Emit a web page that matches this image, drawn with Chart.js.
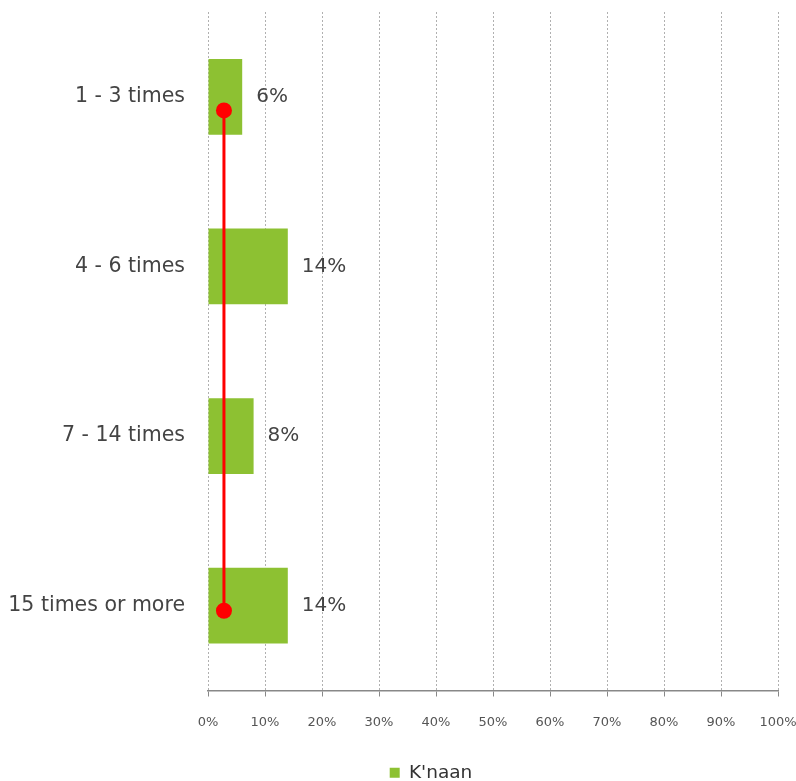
<!DOCTYPE html>
<html>
<head>
<meta charset="utf-8">
<script src="https://cdn.jsdelivr.net/npm/chart.js@4"></script>
<style>
  html, body { margin: 0; padding: 0; background: #fff; }
  #wrap { width: 796px; height: 781px; }
</style>
</head>
<body>
<div id="wrap"><canvas id="c" width="796" height="781"></canvas></div>
<script>
// Visit frequency buckets and share of respondents
const categories = ['1 - 3 times', '4 - 6 times', '7 - 14 times', '15 times or more'];
const shares = [6, 14, 8, 14];
const seriesName = "K'naan";
// Reference line: value and position along the category axis (category index units)
const refLineX = [2.8, 2.8];
const refLineY = [0.08, 3.03];
const xTicks = [0, 10, 20, 30, 40, 50, 60, 70, 80, 90, 100];

const FONT = "'DejaVu Sans', Verdana, sans-serif";
const GREEN = '#8DC132';
const LEGEND_LEFT = 84;

const valueLabels = {
  id: 'valueLabels',
  afterDatasetsDraw(chart) {
    const ctx = chart.ctx;
    const meta = chart.getDatasetMeta(0);
    ctx.save();
    ctx.font = '20px ' + FONT;
    ctx.fillStyle = '#444';
    ctx.textAlign = 'left';
    ctx.textBaseline = 'middle';
    meta.data.forEach((bar, i) => {
      ctx.fillText(shares[i] + '%', bar.x + 14, bar.y);
    });
    ctx.restore();
  }
};

// Legend sits centred under the right part of the canvas
const legendShift = {
  id: 'legendShift',
  afterLayout(chart) {
    const lg = chart.legend;
    if (lg) {
      lg.left = LEGEND_LEFT;
      lg.width = lg.right - lg.left;
    }
  }
};

new Chart(document.getElementById('c'), {
  type: 'bar',
  data: {
    labels: categories,
    datasets: [
      {
        label: seriesName,
        data: shares,
        backgroundColor: GREEN,
        borderWidth: 0,
        grouped: false,
        categoryPercentage: 1,
        barPercentage: 0.447,
        xAxisID: 'x',
        yAxisID: 'y',
        order: 2
      },
      {
        type: 'line',
        label: 'ref',
        data: refLineX.map((v, i) => ({ x: v, y: refLineY[i] })),
        borderColor: '#FF0000',
        backgroundColor: '#FF0000',
        borderWidth: 3,
        pointRadius: 8,
        pointHoverRadius: 8,
        pointBorderWidth: 0,
        xAxisID: 'x',
        yAxisID: 'y2',
        order: 1
      }
    ]
  },
  options: {
    indexAxis: 'y',
    responsive: false,
    animation: false,
    layout: { autoPadding: false, padding: { left: 0, right: 18, top: 12, bottom: -11 } },
    scales: {
      x: {
        type: 'linear',
        min: 0,
        max: 100,
        afterBuildTicks(scale) { scale.ticks = xTicks.map(v => ({ value: v })); },
        afterFit(scale) { scale.height = 70; scale.paddingLeft = 0; scale.paddingRight = 0; },
        grid: {
          color: '#b0b0b0',
          tickBorderDash: [],
          tickColor: '#888',
          tickLength: 6,
          lineWidth: 1
        },
        border: { display: true, color: '#888', width: 1.5, dash: [2, 2] },
        ticks: {
          font: { family: FONT, size: 13 },
          color: '#555',
          padding: 18,
          callback: v => v + '%'
        }
      },
      y: {
        type: 'category',
        afterFit(scale) { scale.width = 208; scale.paddingTop = 0; scale.paddingBottom = 0; },
        grid: { display: false },
        border: { display: false },
        ticks: {
          font: { family: FONT, size: 20.5 },
          color: '#444',
          padding: 15
        }
      },
      y2: {
        type: 'linear',
        display: false,
        offset: false,
        min: -0.5,
        max: 3.5,
        reverse: true
      }
    },
    plugins: {
      legend: {
        position: 'bottom',
        labels: {
          filter: item => item.datasetIndex === 0,
          font: { family: FONT, size: 18.5 },
          color: '#333',
          boxWidth: 10,
          boxHeight: 10,
          padding: 3
        }
      },
      tooltip: { enabled: false }
    }
  },
  plugins: [valueLabels, legendShift]
});
</script>
</body>
</html>
